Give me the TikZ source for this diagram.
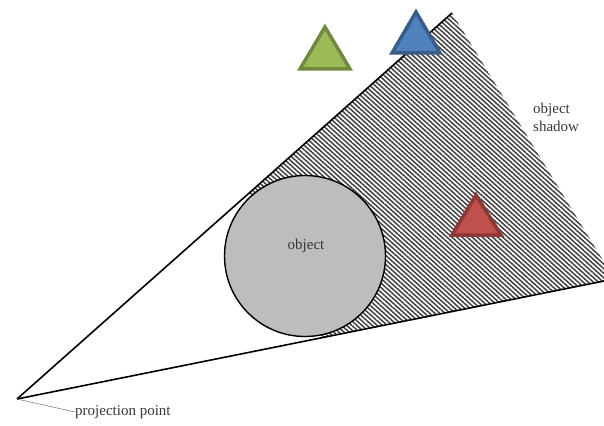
\documentclass[tikz,border=0pt]{standalone}
\usepackage{fontspec}
\setmainfont{Liberation Serif}
\usetikzlibrary{calc,patterns.meta}
\definecolor{gfill}{HTML}{9BBB59}\definecolor{gline}{HTML}{71893F}
\definecolor{bfill}{HTML}{4F81BD}\definecolor{bline}{HTML}{385D8A}
\definecolor{rfill}{HTML}{C0504D}\definecolor{rline}{HTML}{8C3836}
\definecolor{objgray}{HTML}{BDBDBD}
\tikzset{
  ray/.style={draw=black,line width=1.6pt},
  tri/.style={line width=3.5pt,line join=miter},
  lbl/.style={font=\fontsize{15}{18}\selectfont,text=black!78},
}
\begin{document}
\begin{tikzpicture}[x=1pt,y=-1pt]
\useasboundingbox (0,0) rectangle (604,425);
\coordinate (P) at (17,399);
\coordinate (U) at (452,13);
\coordinate (L) at (604,281);
\coordinate (R) at (604,262);
\coordinate (C) at (305,256);
\coordinate (TU) at ($(P)!(C)!(U)$);
\coordinate (TL) at ($(P)!(C)!(L)$);
% shadow
\fill[pattern={Lines[angle=-42,distance=3.4pt,line width=1.5pt]},pattern color=black!75]
  (TU) -- (U) -- (R) -- (L) -- (TL) -- cycle;
\draw[ray] (P) -- (U);
\draw[ray] (P) -- (L);
% object
\node[circle,draw=black,line width=1.4pt,fill=objgray,minimum size=161pt,inner sep=0pt] (obj) at (C) {};
\node[lbl] (objtxt) at (306,246) {object};
% triangles
\draw[tri,draw=gline,fill=gfill] (325,27) -- (350,69) -- (300,69) -- cycle;
\draw[tri,draw=bline,fill=bfill] (416,12) -- (440,53) -- (392,53) -- cycle;
\draw[tri,draw=rline,fill=rfill] (476,195) -- (501,235) -- (452,235) -- cycle;
% labels
\node[lbl,align=left,anchor=north west,inner sep=0pt] (shad) at (533,103) {object\\shadow};
\node[lbl,anchor=west,inner sep=0pt] (proj) at (75,412) {projection point};
\draw[gray,line width=0.6pt] (P) -- (proj.west);
\end{tikzpicture}
\end{document}
